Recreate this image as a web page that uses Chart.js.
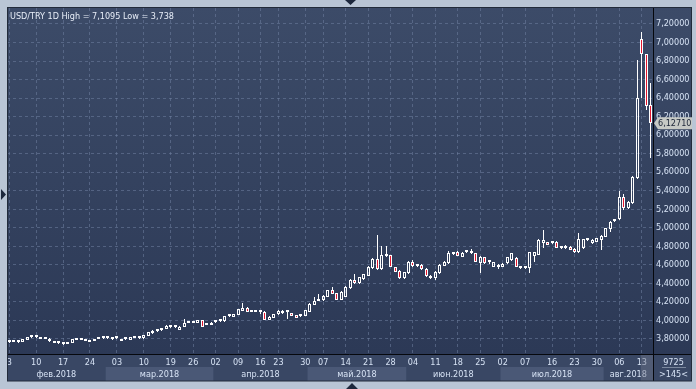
<!DOCTYPE html>
<html>
<head>
<meta charset="utf-8">
<script src="https://cdn.jsdelivr.net/npm/chart.js@4.4.1/dist/chart.umd.min.js"></script>
<style>
  html, body { margin: 0; padding: 0; background: #b9c5d5; }
  #wrap { width: 696px; height: 389px; }
</style>
</head>
<body>
<div id="wrap"><canvas id="chart" width="696" height="389"></canvas></div>
<script>
// USD/TRY daily candles, Feb - Aug 2018
const opens = [
  3.765,3.768,3.762,3.770,3.790,3.818,3.818,3.805,3.800,3.800,3.776,3.752,3.742,3.742,3.755,3.788,3.790,3.778,3.770,3.777,
  3.800,3.805,3.806,3.800,3.806,3.780,3.796,3.785,3.813,3.806,3.806,3.835,3.860,3.880,3.890,3.910,3.931,3.925,3.895,3.930,
  3.975,3.976,3.975,4.003,3.953,3.950,3.980,3.990,3.990,4.047,4.040,4.058,4.105,4.133,
  4.094,4.094,4.090,4.094,4.003,4.029,4.065,4.101,4.094,4.076,4.057,4.050,4.047,4.094,4.165,4.212,4.216,4.255,4.327,4.291,
  4.220,4.255,4.345,4.436,4.400,4.443,4.479,4.561,4.662,4.551,4.700,4.705,4.572,4.536,4.453,4.507,4.633,4.588,4.597,4.551,
  4.479,4.454,4.507,4.587,4.615,4.714,4.734,4.687,4.740,4.724,4.723,4.615,4.680,4.625,4.579,4.578,4.579,4.615,4.651,4.677,
  4.579,4.562,4.561,4.698,4.705,4.839,4.842,4.838,4.849,4.786,4.806,4.795,4.770,4.734,4.777,4.868,4.831,4.849,4.867,4.903,
  4.983,5.071,5.090,5.328,5.210,5.270,5.534,7.035,6.876,6.325
];
const highs = [
  3.775,3.772,3.782,3.800,3.820,3.835,3.822,3.812,3.804,3.808,3.780,3.762,3.748,3.760,3.803,3.795,3.800,3.782,3.778,3.803,
  3.804,3.815,3.815,3.810,3.815,3.802,3.799,3.818,3.816,3.810,3.845,3.875,3.892,3.899,3.915,3.946,3.940,3.929,3.934,4.011,
  3.993,3.980,4.006,4.008,3.957,3.978,3.984,3.994,4.050,4.060,4.070,4.122,4.184,4.140,
  4.100,4.100,4.104,4.098,4.042,4.070,4.112,4.106,4.100,4.080,4.062,4.060,4.116,4.190,4.248,4.284,4.268,4.332,4.364,4.296,
  4.315,4.370,4.442,4.500,4.470,4.505,4.585,4.670,4.921,4.803,4.803,4.710,4.578,4.542,4.525,4.640,4.650,4.595,4.610,4.560,
  4.484,4.530,4.605,4.640,4.745,4.735,4.745,4.740,4.760,4.767,4.730,4.692,4.686,4.640,4.632,4.608,4.614,4.688,4.730,4.684,
  4.584,4.566,4.740,4.740,4.875,4.975,4.850,4.860,4.856,4.800,4.815,4.802,4.776,4.939,4.880,4.875,4.873,4.892,4.918,5.000,
  5.070,5.080,5.400,5.360,5.290,5.560,6.811,7.1095,6.876,6.566
];
const lows = [
  3.758,3.762,3.758,3.765,3.785,3.810,3.812,3.795,3.796,3.768,3.750,3.745,3.738,3.740,3.752,3.784,3.783,3.774,3.762,3.774,
  3.796,3.797,3.798,3.792,3.798,3.776,3.792,3.782,3.809,3.802,3.803,3.832,3.856,3.876,3.886,3.905,3.922,3.921,3.892,3.926,
  3.970,3.972,3.972,3.928,3.949,3.946,3.976,3.986,3.986,4.040,4.036,4.055,4.100,4.090,
  4.088,4.087,4.068,4.000,4.000,4.025,4.060,4.072,4.010,4.046,4.025,4.040,4.043,4.090,4.160,4.205,4.212,4.250,4.280,4.215,
  4.215,4.250,4.340,4.395,4.395,4.438,4.474,4.555,4.545,4.545,4.687,4.575,4.520,4.445,4.446,4.500,4.580,4.580,4.545,4.470,
  4.450,4.436,4.500,4.582,4.610,4.700,4.690,4.680,4.730,4.716,4.628,4.507,4.610,4.610,4.574,4.551,4.574,4.610,4.645,4.574,
  4.556,4.556,4.507,4.633,4.700,4.777,4.808,4.820,4.780,4.770,4.772,4.754,4.730,4.723,4.772,4.860,4.826,4.844,4.759,4.898,
  4.957,5.062,5.080,5.190,5.200,5.260,5.525,6.398,6.270,5.750
];
const closes = [
  3.768,3.767,3.778,3.795,3.815,3.822,3.815,3.802,3.801,3.772,3.753,3.750,3.741,3.758,3.800,3.787,3.791,3.777,3.772,3.800,
  3.801,3.807,3.807,3.801,3.807,3.800,3.795,3.816,3.812,3.805,3.841,3.870,3.888,3.895,3.910,3.942,3.932,3.924,3.931,3.975,
  3.990,3.975,4.003,3.931,3.952,3.975,3.981,3.989,4.047,4.050,4.066,4.119,4.136,4.094,
  4.095,4.093,4.092,4.003,4.039,4.065,4.104,4.076,4.096,4.050,4.029,4.052,4.111,4.176,4.212,4.210,4.263,4.327,4.284,4.220,
  4.309,4.364,4.436,4.400,4.464,4.497,4.579,4.662,4.551,4.705,4.698,4.579,4.525,4.453,4.518,4.633,4.587,4.586,4.551,4.479,
  4.454,4.525,4.597,4.633,4.723,4.717,4.695,4.730,4.742,4.722,4.633,4.687,4.615,4.627,4.626,4.580,4.608,4.680,4.723,4.579,
  4.561,4.561,4.734,4.734,4.867,4.867,4.813,4.840,4.785,4.784,4.777,4.759,4.734,4.875,4.875,4.866,4.867,4.885,4.911,4.993,
  5.065,5.069,5.330,5.210,5.280,5.551,6.398,6.876,6.314,6.127
];

// date row: which candle carries which day label
const dayTickIndex = [0, 6, 12, 18, 24, 30, 36, 41, 46, 51, 56, 60, 66, 70, 75, 80, 85, 90, 95, 100, 105, 110, 115, 121, 126, 131, 136, 141];
const dayTickText = ['3', '10', '17', '24', '03', '10', '19', '26', '02', '09', '16', '23', '30', '07', '14', '21', '28', '04', '11', '18', '25', '02', '07', '16', '23', '30', '06', '13'];

// month row
const monthNames = ['фев.2018', 'мар.2018', 'апр.2018', 'май.2018', 'июн.2018', 'июл.2018', 'авг.2018'];
const monthStarts = [0, 22, 46, 67, 89, 110, 133];

const yTicks = [3.8, 4.0, 4.2, 4.4, 4.6, 4.8, 5.0, 5.2, 5.4, 5.6, 5.8, 6.0, 6.2, 6.4, 6.6, 6.8, 7.0, 7.2];
const lastPrice = 6.12710;
const titleText = 'USD/TRY 1D High = 7,1095 Low = 3,738';
const cornerTop = '9725';
const cornerBottom = '>145<';

const categories = opens.map((o, i) => String(i));

const FONT = '"DejaVu Sans Condensed", "DejaVu Sans", sans-serif';
const textColor = '#d6e2f4';
const gridColor = 'rgba(112, 128, 160, 0.55)';
const redBody = '#e2162e';

const bodies = opens.map((o, i) => [Math.min(o, closes[i]), Math.max(o, closes[i])]);
const upperWicks = highs.map((h, i) => [Math.max(opens[i], closes[i]), h]);
const lowerWicks = lows.map((l, i) => [l, Math.min(opens[i], closes[i])]);
const bodyFill = opens.map((o, i) => closes[i] < o ? redBody : 'rgba(0,0,0,0)');

const fmt = v => v.toFixed(5).replace('.', ',');

// snap bar elements to the pixel grid so 1px wicks and 3px bodies stay crisp
const pixelSnap = {
  id: 'pixelSnap',
  beforeDatasetsDraw(chart) {
    chart.data.datasets.forEach((ds, i) => {
      chart.getDatasetMeta(i).data.forEach(el => {
        el.x = Math.floor(el.x) + 0.5;
        el.y = Math.round(el.y);
        el.base = Math.round(el.base);
      });
    });
  }
};

const chartDecor = {
  id: 'chartDecor',
  beforeDraw(chart) {
    const { ctx, chartArea: a } = chart;
    const xs = chart.scales.x;
    const half = (xs.getPixelForValue(1) - xs.getPixelForValue(0)) / 2;
    ctx.save();
    ctx.fillStyle = '#b9c5d5';
    ctx.fillRect(0, 0, chart.width, chart.height);

    const g = ctx.createLinearGradient(0, 7, 0, a.bottom);
    g.addColorStop(0, '#3c4b68');
    g.addColorStop(1, '#2c3956');
    ctx.fillStyle = g;
    ctx.fillRect(7, 7, 685, a.bottom - 7);

    ctx.fillStyle = '#394764';
    ctx.fillRect(7, a.bottom, 685, 381 - a.bottom);

    // month bands
    for (let k = 0; k < monthNames.length; k++) {
      const x0 = k === 0 ? a.left : xs.getPixelForValue(monthStarts[k]) - half;
      const x1 = k === monthNames.length - 1 ? a.right : xs.getPixelForValue(monthStarts[k + 1]) - half;
      if (k % 2 === 1) {
        ctx.fillStyle = '#4a5876';
        ctx.fillRect(x0, 367, x1 - x0, 14);
      }
    }
    ctx.restore();
  },
  afterDraw(chart) {
    const { ctx, chartArea: a } = chart;
    const xs = chart.scales.x;
    const ys = chart.scales.y;
    const half = (xs.getPixelForValue(1) - xs.getPixelForValue(0)) / 2;
    ctx.save();

    // month labels
    ctx.font = '9px ' + FONT;
    ctx.fillStyle = textColor;
    ctx.textAlign = 'center';
    ctx.textBaseline = 'alphabetic';
    for (let k = 0; k < monthNames.length; k++) {
      const x0 = k === 0 ? a.left : xs.getPixelForValue(monthStarts[k]) - half;
      const x1 = k === monthNames.length - 1 ? a.right : xs.getPixelForValue(monthStarts[k + 1]) - half;
      ctx.fillText(monthNames[k], (x0 + x1) / 2, 377);
    }

    // current bar highlight on the date axis
    ctx.fillStyle = 'rgba(110, 118, 138, 0.45)';
    ctx.fillRect(xs.getPixelForValue(141) - 1, a.bottom + 1, a.right - xs.getPixelForValue(141) + 1, 381 - a.bottom - 1);

    // separators
    ctx.strokeStyle = '#06080d';
    ctx.lineWidth = 1;
    ctx.beginPath();
    ctx.moveTo(a.right + 0.5, 7);
    ctx.lineTo(a.right + 0.5, 381);
    ctx.moveTo(7, a.bottom + 0.5);
    ctx.lineTo(692, a.bottom + 0.5);
    ctx.stroke();

    // widget border
    ctx.strokeStyle = '#222b3a';
    ctx.strokeRect(7.5, 7.5, 684, 373.5);

    // title
    ctx.textAlign = 'left';
    ctx.fillStyle = '#e8eef8';
    ctx.fillText(titleText, 10, 18.5);

    // corner box
    ctx.textAlign = 'center';
    ctx.fillStyle = textColor;
    ctx.fillText(cornerTop, 673.5, 364.5);
    ctx.fillText(cornerBottom, 673.5, 377);
    ctx.strokeStyle = '#7a879d';
    ctx.beginPath();
    ctx.moveTo(662, 367.5);
    ctx.lineTo(686, 367.5);
    ctx.stroke();

    // last price tag
    const py = ys.getPixelForValue(lastPrice);
    ctx.fillStyle = '#c6c9c5';
    ctx.beginPath();
    ctx.moveTo(a.right + 1, py);
    ctx.lineTo(a.right + 5, py - 6);
    ctx.lineTo(692, py - 6);
    ctx.lineTo(692, py + 6);
    ctx.lineTo(a.right + 5, py + 6);
    ctx.closePath();
    ctx.fill();
    ctx.fillStyle = '#1b2436';
    ctx.textAlign = 'left';
    ctx.textBaseline = 'middle';
    ctx.fillText(fmt(lastPrice), 658, py + 0.5);

    // splitter arrows in the frame
    ctx.fillStyle = '#1d283d';
    ctx.beginPath();
    ctx.moveTo(345, 0); ctx.lineTo(356, 0); ctx.lineTo(350.5, 5); ctx.closePath();
    ctx.moveTo(346, 389); ctx.lineTo(358, 389); ctx.lineTo(352, 383); ctx.closePath();
    ctx.moveTo(1, 189); ctx.lineTo(1, 200); ctx.lineTo(6, 194.5); ctx.closePath();
    ctx.fill();
    ctx.restore();
  }
};

new Chart(document.getElementById('chart'), {
  type: 'bar',
  data: {
    labels: categories,
    datasets: [
      {
        label: 'body',
        data: bodies,
        backgroundColor: bodyFill,
        borderColor: '#ffffff',
        borderWidth: 1,
        borderSkipped: false,
        barThickness: 3,
        minBarLength: 2,
        inflateAmount: 0,
        grouped: false,
        order: 0
      },
      {
        label: 'upper',
        data: upperWicks,
        backgroundColor: '#ffffff',
        borderWidth: 0,
        barThickness: 1,
        inflateAmount: 0,
        grouped: false,
        order: 1
      },
      {
        label: 'lower',
        data: lowerWicks,
        backgroundColor: '#ffffff',
        borderWidth: 0,
        barThickness: 1,
        inflateAmount: 0,
        grouped: false,
        order: 1
      }
    ]
  },
  options: {
    responsive: false,
    devicePixelRatio: 1,
    animation: false,
    layout: { padding: { left: 7, top: 8, right: 4, bottom: 8 } },
    plugins: { legend: { display: false }, tooltip: { enabled: false } },
    scales: {
      x: {
        type: 'category',
        offset: true,
        grid: {
          offset: false,
          drawTicks: false,
          color: ctx => dayTickIndex.includes(ctx.index) ? gridColor : 'rgba(0,0,0,0)'
        },
        border: { display: false, dash: [3, 3] },
        ticks: {
          autoSkip: false,
          maxRotation: 0,
          minRotation: 0,
          padding: 4,
          color: textColor,
          font: { family: FONT, size: 9, lineHeight: 1 },
          callback: (v, i) => {
            const k = dayTickIndex.indexOf(i);
            return k >= 0 ? dayTickText[k] : '';
          }
        },
        afterFit: s => { s.height = 27; }
      },
      y: {
        type: 'linear',
        position: 'right',
        min: 3.636,
        max: 7.3728,
        afterBuildTicks: s => { s.ticks = yTicks.map(v => ({ value: v })); },
        grid: { color: gridColor, drawTicks: false },
        border: { display: false, dash: [3, 3] },
        ticks: {
          padding: 3,
          color: textColor,
          font: { family: FONT, size: 9, lineHeight: 1 },
          callback: v => fmt(v)
        },
        afterFit: s => { s.width = 39; }
      }
    }
  },
  plugins: [pixelSnap, chartDecor]
});
</script>
</body>
</html>
